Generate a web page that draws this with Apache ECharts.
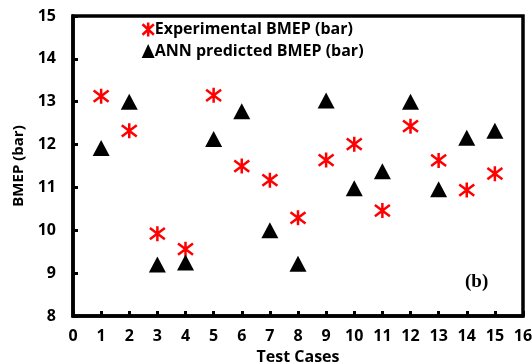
<!DOCTYPE html>
<html><head><meta charset="utf-8">
<script src="https://cdn.jsdelivr.net/npm/echarts@6/dist/echarts.min.js"></script>
<style>html,body{margin:0;padding:0;background:#fff}#c{width:532px;height:364px}</style>
</head><body><div id="c"></div>
<script>
const testCases = [1,2,3,4,5,6,7,8,9,10,11,12,13,14,15];
const experimental = [13.13,12.32,9.92,9.56,13.15,11.5,11.17,10.29,11.64,12.01,10.46,12.43,11.63,10.94,11.32];
const annPredicted = [11.92,13.0,9.2,9.25,12.13,12.78,10.0,9.22,13.03,10.98,11.38,13.0,10.96,12.16,12.32];
const xTicks = [0,16,1];
const yTicks = [8,15,1];

const starPath = 'path://M8,0 L8,16 M1.5,2 L14.5,14 M1.5,14 L14.5,2';
const font = 'Open Sans';
const chart = echarts.init(document.getElementById('c'));
chart.setOption({
  animation:false,
  grid:{left:73,right:9,top:16,bottom:48,show:true,borderColor:'#000',borderWidth:3.5,
        containLabel:false,outerBoundsMode:'none'},
  legend:{
    orient:'vertical',left:135,top:15,itemGap:4,itemWidth:13,itemHeight:14,
    textStyle:{fontFamily:font,fontWeight:'bold',fontSize:16,color:'#000',padding:[0,0,0,-5]},
    data:[
      {name:'Experimental BMEP (bar)',icon:starPath,itemStyle:{color:'none',borderColor:'#ff0000',borderWidth:2.5}},
      {name:'ANN predicted BMEP (bar)',icon:'triangle',itemStyle:{color:'#000'}}
    ]
  },
  xAxis:{type:'value',min:xTicks[0],max:xTicks[1],interval:xTicks[2],
    name:'Test Cases',nameLocation:'middle',nameGap:33,
    nameTextStyle:{fontFamily:font,fontWeight:'bold',fontSize:16,color:'#000'},
    axisLine:{lineStyle:{color:'#000',width:3.5}},
    axisTick:{inside:true,length:5,lineStyle:{color:'#000',width:3}},
    axisLabel:{fontFamily:font,fontWeight:'bold',fontSize:16,color:'#000',margin:12},
    splitLine:{show:false}},
  yAxis:{type:'value',min:yTicks[0],max:yTicks[1],interval:yTicks[2],
    name:'BMEP (bar)',nameLocation:'middle',nameGap:47,
    nameTextStyle:{fontFamily:font,fontWeight:'bold',fontSize:15,color:'#000'},
    axisLine:{lineStyle:{color:'#000',width:3.5}},
    axisTick:{inside:true,length:5,lineStyle:{color:'#000',width:3}},
    axisLabel:{fontFamily:font,fontWeight:'bold',fontSize:16,color:'#000',margin:17},
    splitLine:{show:false}},
  graphic:[{type:'text',left:465,top:273,style:{text:'(b)',font:'bold 19px "Liberation Serif"',fill:'#000'}}],
  series:[
    {name:'Experimental BMEP (bar)',type:'scatter',symbol:starPath,symbolSize:[15,15],
     itemStyle:{color:'none',borderColor:'#ff0000',borderWidth:2.5,opacity:1},
     data:testCases.map((x,i)=>[x,experimental[i]])},
    {name:'ANN predicted BMEP (bar)',type:'scatter',symbol:'triangle',symbolSize:[17,16],
     itemStyle:{color:'#000',opacity:1},
     data:testCases.map((x,i)=>[x,annPredicted[i]])}
  ]
});
</script></body></html>
